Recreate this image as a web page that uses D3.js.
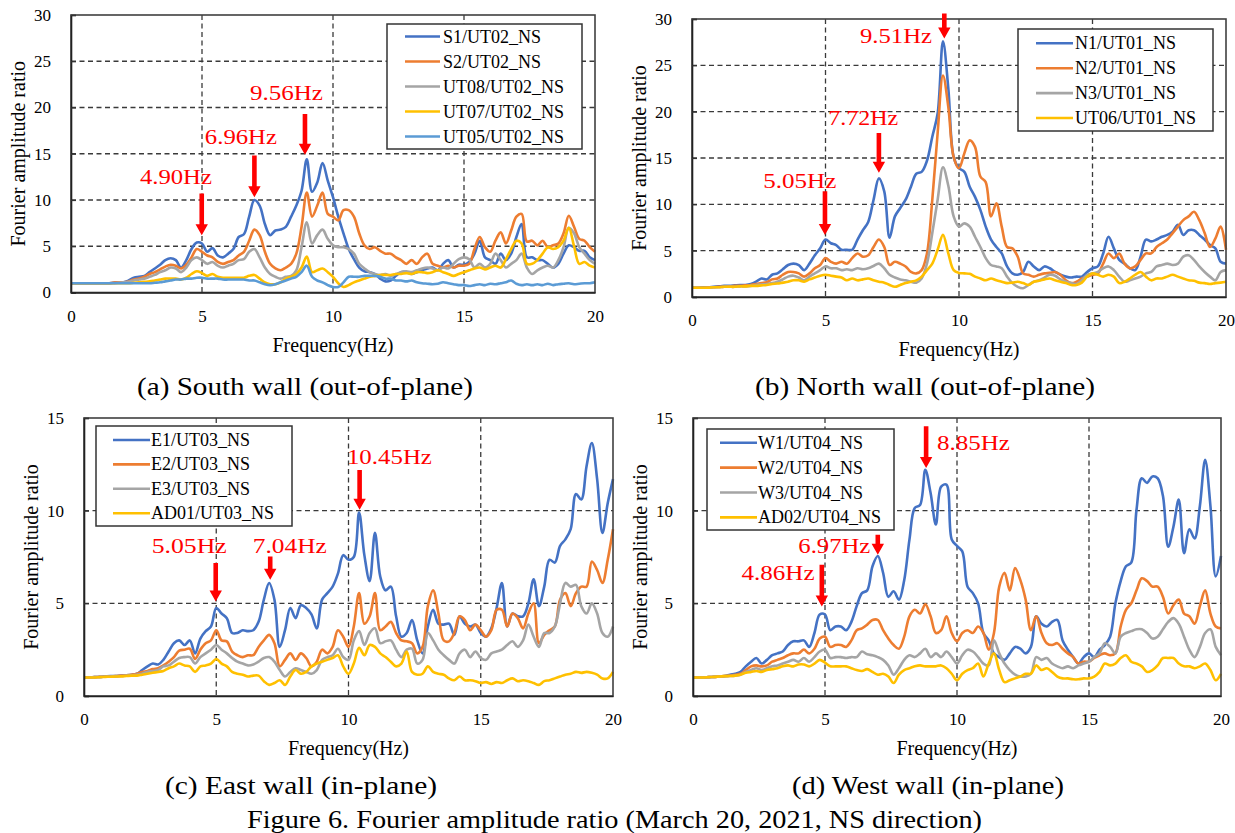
<!DOCTYPE html>
<html><head><meta charset="utf-8">
<script src="https://cdn.jsdelivr.net/npm/d3@7"></script>
<style>body{margin:0;background:#fff} svg{display:block} text{font-family:"Liberation Serif","Times New Roman",serif}</style>
</head><body><svg id="c" width="1235" height="833"></svg>
<script>
// ---------- DATA ----------
const FREQ = [0,0.2,0.4,0.6,0.8,1,1.2,1.4,1.6,1.8,
 2,2.2,2.4,2.6,2.8,3,3.2,3.4,3.6,3.8,
 4,4.2,4.4,4.6,4.8,5,5.2,5.4,5.6,5.8,
 6,6.2,6.4,6.6,6.8,7,7.2,7.4,7.6,7.8,
 8,8.2,8.4,8.6,8.8,9,9.2,9.4,9.6,9.8,
 10,10.2,10.4,10.6,10.8,11,11.2,11.4,11.6,11.8,
 12,12.2,12.4,12.6,12.8,13,13.2,13.4,13.6,13.8,
 14,14.2,14.4,14.6,14.8,15,15.2,15.4,15.6,15.8,
 16,16.2,16.4,16.6,16.8,17,17.2,17.4,17.6,17.8,
 18,18.2,18.4,18.6,18.8,19,19.2,19.4,19.6,19.8,
 20];
const X_TICKS = [0,5,10,15,20];
const Y_TICKS_30 = [0,5,10,15,20,25,30];
const Y_TICKS_15 = [0,5,10,15];

// (a) South wall
const A_S1 = [1.0,1.0,1.0,1.0,1.0,1.0,1.0,1.0,1.05,1.1,
 1.1,1.3,1.6,1.7,1.8,2.2,2.6,3.0,3.5,3.7,
 3.5,2.7,3.5,4.7,5.4,5.3,4.4,4.8,4.0,3.8,
 4.2,4.7,6.0,6.3,8.2,10.0,9.4,7.4,6.2,6.7,
 6.8,7.1,8.2,9.4,11.0,14.4,10.9,11.9,14.0,12.1,
 10.3,8.2,6.4,4.7,3.6,2.7,2.3,2.2,2.0,1.5,
 1.2,1.3,1.8,2.2,2.2,2.0,2.2,2.4,2.6,2.7,
 2.4,3.1,3.5,2.7,3.0,3.0,3.3,4.2,5.6,3.8,
 3.5,3.1,4.2,3.5,4.2,6.0,7.4,3.8,3.8,3.5,
 3.5,3.1,2.7,3.1,4.2,5.1,4.9,4.5,4.5,3.8,
 3.5];
const A_S2 = [1.0,1.0,1.0,1.0,1.0,1.0,1.0,1.0,1.05,1.1,
 1.1,1.2,1.4,1.5,1.7,2.0,2.2,2.5,2.8,3.0,
 2.9,2.6,3.0,3.8,4.7,4.4,4.0,3.8,3.3,3.1,
 3.3,3.5,4.0,4.4,5.6,6.8,6.2,4.4,3.1,2.6,
 2.4,2.7,3.1,4.2,7.1,10.8,8.2,9.4,10.8,8.5,
 8.2,7.8,8.9,8.9,8.2,6.4,5.1,4.7,4.9,4.5,
 4.2,4.2,3.8,3.5,3.1,3.5,3.1,3.8,4.2,3.1,
 2.9,2.7,2.9,2.7,2.9,2.9,3.1,4.7,6.0,4.9,
 4.4,5.6,6.5,5.3,6.7,8.2,8.5,5.5,5.6,5.1,
 5.6,4.9,5.1,5.3,6.4,8.3,7.1,5.8,5.6,4.9,
 4.4];
const A_UT08 = [1.0,1.0,1.0,1.0,1.0,1.0,1.0,1.0,1.0,1.05,
 1.1,1.15,1.3,1.4,1.5,1.7,1.9,2.2,2.4,2.7,
 2.6,2.2,2.7,3.5,3.8,3.5,3.1,3.3,2.9,2.7,
 2.9,3.1,3.5,3.6,4.4,4.7,3.8,2.7,2.0,1.7,
 1.5,1.7,1.8,2.4,4.9,7.6,5.3,6.2,6.8,5.8,
 5.1,4.9,4.9,4.7,4.2,3.1,2.6,2.2,2.0,1.9,
 2.0,1.8,2.0,2.2,2.3,2.2,2.4,2.6,2.7,2.6,
 2.4,2.7,2.6,3.1,3.6,3.8,3.6,2.7,3.1,2.7,
 3.1,4.2,3.5,2.7,3.1,3.5,4.2,2.7,2.0,2.4,
 2.7,2.9,2.7,3.5,4.9,7.0,6.4,4.9,4.2,3.5,
 3.1];
const A_UT07 = [1.0,1.0,1.0,1.0,1.0,1.0,1.0,1.0,1.0,1.0,
 1.0,1.0,1.05,1.1,1.15,1.2,1.3,1.4,1.5,1.5,
 1.5,1.4,1.6,2.0,2.3,2.1,1.8,2.0,1.7,1.6,
 1.6,1.6,1.6,1.6,1.8,1.9,1.5,1.1,0.9,0.9,
 1.1,1.5,1.7,2.0,2.7,3.9,2.2,2.4,2.6,2.2,
 1.7,1.0,0.6,0.8,1.1,1.3,1.5,1.7,1.8,1.9,
 1.9,1.9,2.0,2.0,2.1,2.0,2.2,2.2,2.1,2.2,
 2.4,2.2,2.0,1.8,2.0,2.2,2.4,2.6,2.7,2.5,
 2.7,2.9,2.7,3.6,4.7,5.6,5.3,3.1,3.1,3.5,
 4.2,4.9,4.7,4.9,5.6,7.0,5.0,3.1,3.3,2.9,
 2.7];
const A_UT05 = [1.0,1.0,1.0,1.0,1.0,1.0,1.0,1.0,1.0,1.0,
 1.0,1.0,1.0,1.0,1.0,1.0,1.05,1.1,1.2,1.3,
 1.4,1.4,1.5,1.5,1.6,1.6,1.5,1.5,1.5,1.4,
 1.4,1.4,1.4,1.4,1.3,1.3,1.1,0.9,0.8,0.9,
 1.1,1.3,1.5,1.7,2.2,2.9,1.7,1.3,1.1,0.8,
 0.6,0.6,1.1,1.7,1.7,1.7,1.8,1.8,1.8,1.7,
 1.5,1.5,1.3,1.3,1.2,1.3,1.1,1.0,0.95,0.9,
 0.95,1.1,1.0,0.9,0.8,0.8,0.7,0.8,0.9,0.8,
 0.95,0.9,1.0,1.1,1.3,0.95,0.8,0.9,0.8,0.9,
 0.8,0.95,0.8,0.9,0.95,1.0,0.9,0.95,1.0,1.0,
 1.1];

// (b) North wall
const B_N1 = [1.0,1.0,1.05,1.05,1.1,1.15,1.2,1.2,1.25,1.3,
 1.3,1.4,1.65,2.0,1.9,2.4,2.55,3.0,3.45,3.6,
 3.45,2.9,3.6,4.5,5.25,6.2,5.8,5.6,5.1,5.1,
 5.1,6.2,7.2,8.1,10.5,12.8,11.4,6.4,8.7,9.6,
 10.5,11.9,13.3,13.5,14.7,17.3,19.8,27.6,22.5,15.1,
 13.9,13.5,11.9,10.8,9.4,7.6,6.2,5.4,4.7,3.3,
 2.55,2.4,2.7,3.8,3.3,2.9,3.3,3.1,2.7,2.4,
 2.2,2.1,2.2,2.2,2.7,3.1,3.3,4.7,6.5,5.25,
 4.0,3.6,3.1,2.9,4.35,6.2,6.0,6.2,6.5,6.7,
 7.05,7.8,6.7,7.2,7.2,6.7,6.2,5.6,5.25,3.8,
 3.6];
const B_N2 = [1.0,1.0,1.0,1.05,1.05,1.1,1.1,1.15,1.2,1.2,
 1.25,1.3,1.4,1.5,1.6,1.9,2.0,2.4,2.7,2.7,
 2.55,2.2,2.55,3.1,3.45,4.2,3.8,3.6,3.8,3.6,
 4.2,4.7,4.35,4.5,5.4,6.2,5.4,3.45,3.8,3.6,
 3.3,2.7,2.55,2.9,4.7,10.5,17.7,23.9,20.5,15.1,
 13.9,15.5,16.9,16.2,13.0,12.4,8.7,10.1,7.6,5.4,
 5.25,4.35,2.55,2.4,2.2,2.4,2.55,2.6,2.7,2.4,
 1.8,1.5,1.65,2.0,2.2,2.4,2.55,3.6,4.7,4.2,
 4.7,3.6,3.1,3.3,4.0,4.7,4.7,5.4,5.8,6.2,
 6.9,7.6,8.3,8.7,9.2,8.3,6.9,5.4,6.3,7.6,
 5.1];
const B_N3 = [1.0,1.0,1.0,1.0,1.05,1.05,1.1,1.1,1.1,1.15,
 1.15,1.2,1.3,1.35,1.4,1.5,1.65,1.9,2.2,2.3,
 2.1,1.8,2.2,2.55,2.9,3.3,3.1,3.1,2.9,3.0,
 2.9,3.1,3.0,3.1,3.35,3.6,3.1,2.4,2.1,1.9,
 1.8,1.65,1.55,2.0,3.6,6.9,10.5,14.0,12.0,8.7,
 7.6,7.95,7.6,6.5,5.4,4.2,3.45,3.3,3.1,2.2,
 1.5,1.1,0.95,1.3,1.65,1.8,2.1,2.4,2.3,1.9,
 1.65,1.5,1.4,1.8,2.4,2.55,2.7,3.1,3.3,2.9,
 2.2,1.65,1.8,2.0,2.2,2.55,2.7,3.3,3.45,3.6,
 3.45,3.6,4.35,4.5,4.0,3.3,2.7,2.2,1.8,2.7,
 2.9];
const B_UT06 = [1.0,1.0,1.0,1.0,1.05,1.05,1.1,1.1,1.1,1.15,
 1.15,1.2,1.2,1.25,1.3,1.4,1.45,1.55,1.65,1.8,
 1.8,1.65,1.9,2.1,2.3,2.4,2.3,2.2,2.1,1.8,
 2.0,1.8,1.9,2.0,1.8,1.65,1.55,1.3,1.1,1.3,
 1.5,1.65,1.8,2.2,2.9,3.6,5.1,6.7,4.7,2.9,
 2.6,2.55,2.5,2.2,2.0,1.8,2.0,1.8,1.65,1.5,
 1.55,1.65,1.5,1.3,1.65,1.75,1.9,2.0,1.8,1.65,
 1.5,1.3,1.3,1.55,2.2,2.55,2.4,2.2,2.4,2.2,
 1.5,1.65,2.0,2.4,2.7,2.2,1.8,2.0,2.0,2.2,
 2.4,2.2,2.0,1.8,1.75,1.55,1.5,1.4,1.5,1.55,
 1.65];

// (c) East wall
const C_E1 = [1.0,1.0,1.02,1.03,1.05,1.07,1.08,1.1,1.12,1.15,
 1.2,1.4,1.6,1.75,1.7,1.95,2.4,2.85,3.0,2.75,
 3.0,2.3,3.1,3.5,3.75,4.75,4.45,4.2,3.4,3.4,
 3.55,3.5,3.55,4.0,5.2,6.1,5.2,2.65,3.55,4.75,
 4.2,4.9,4.75,4.4,3.65,5.2,5.55,5.9,6.6,7.6,
 7.35,7.5,9.9,7.6,6.2,8.8,6.45,5.7,5.9,4.3,
 3.2,3.4,4.1,3.0,2.3,3.75,4.65,3.9,3.85,3.9,
 3.3,4.3,3.9,3.75,3.85,3.4,3.2,3.65,4.75,6.1,
 3.75,4.45,4.3,4.3,5.0,6.3,4.85,5.9,7.35,7.2,
 8.1,8.45,9.0,10.9,10.6,12.4,13.65,11.7,8.8,10.4,
 11.7];
const C_E2 = [1.0,1.0,1.02,1.03,1.04,1.05,1.07,1.1,1.12,1.15,
 1.2,1.3,1.35,1.45,1.5,1.65,1.85,2.1,2.45,2.5,
 2.55,2.0,2.5,2.85,3.0,3.55,3.0,2.95,2.4,2.2,
 2.1,2.2,2.2,2.65,3.0,3.3,2.85,1.6,1.95,2.3,
 1.95,2.3,2.05,1.6,1.85,2.5,2.3,2.65,3.55,3.2,
 2.65,3.75,5.55,3.9,4.3,5.55,3.55,3.75,4.0,3.4,
 3.0,2.95,2.85,2.3,2.65,4.85,5.7,4.45,3.0,2.95,
 3.4,4.3,4.1,3.55,3.85,3.55,3.2,3.55,4.65,4.65,
 3.75,4.45,4.2,3.65,4.45,5.0,2.85,3.3,3.55,3.75,
 5.2,5.55,4.85,5.55,5.9,5.9,7.25,6.8,6.1,7.35,
 9.0];
const C_E3 = [1.0,1.0,1.02,1.03,1.04,1.05,1.07,1.08,1.1,1.12,
 1.15,1.2,1.3,1.35,1.4,1.6,1.65,1.85,2.05,2.1,
 2.1,1.75,2.1,2.3,2.5,2.75,2.5,2.3,2.05,1.85,
 1.75,1.65,1.7,1.85,2.05,2.1,1.85,1.4,1.05,1.3,
 1.5,1.4,1.3,1.2,1.4,1.95,2.1,2.2,2.55,2.1,
 1.95,3.0,3.5,2.75,3.4,3.65,2.85,2.95,3.0,2.5,
 2.1,2.5,2.55,1.75,1.95,3.4,3.0,2.5,2.2,1.95,
 1.75,2.3,2.5,2.1,2.4,2.05,1.95,2.3,2.4,2.5,
 2.75,2.95,2.65,3.0,3.85,3.2,2.65,3.4,3.4,3.75,
 5.0,6.1,5.9,6.0,4.85,4.45,5.0,4.45,3.4,3.2,
 3.75];
const C_AD01 = [1.0,1.0,1.0,1.02,1.03,1.04,1.05,1.06,1.08,1.1,
 1.1,1.15,1.2,1.25,1.3,1.35,1.5,1.6,1.75,1.65,
 1.6,1.3,1.6,1.65,1.75,2.0,1.75,1.6,1.3,1.2,
 1.15,1.05,1.1,1.1,0.8,0.6,0.7,0.85,0.6,1.05,
 1.4,1.2,1.3,1.6,1.75,1.85,1.95,2.05,2.2,1.6,
 1.2,1.75,2.6,2.2,2.75,2.65,2.3,2.1,1.85,1.6,
 1.75,2.4,1.3,1.15,1.2,1.6,1.3,1.2,1.15,0.95,
 0.85,1.05,0.85,0.85,0.8,0.7,0.75,0.65,0.75,0.7,
 0.85,0.95,0.8,0.85,0.8,0.7,0.6,0.8,0.85,0.95,
 1.05,1.15,1.2,1.3,1.25,1.3,1.25,1.15,0.95,0.95,
 1.3];

// (d) West wall
const D_W1 = [1.0,1.0,1.0,1.02,1.03,1.05,1.08,1.15,1.2,1.3,
 1.6,1.85,2.05,1.75,1.95,2.2,2.3,2.4,2.75,2.95,
 2.95,3.0,2.65,3.4,4.4,4.4,3.55,3.75,3.75,3.55,
 4.0,4.85,5.55,5.7,7.0,7.55,6.65,5.35,5.65,5.2,
 6.25,8.45,10.15,10.3,12.2,10.95,9.25,11.3,11.4,8.45,
 8.1,7.8,5.9,5.55,5.0,3.4,3.0,2.3,2.1,1.95,
 2.3,2.65,2.55,2.3,2.65,4.3,3.9,3.75,4.0,4.1,
 3.0,2.5,2.1,1.75,2.1,2.3,2.1,2.5,2.75,3.2,
 5.0,6.2,7.0,7.2,10.05,11.75,11.5,11.85,11.75,10.8,
 8.05,9.15,10.6,7.7,9.0,8.5,10.25,12.75,10.25,6.45,
 7.55];
const D_W2 = [1.0,1.0,1.0,1.02,1.03,1.05,1.07,1.1,1.15,1.2,
 1.4,1.6,1.65,1.6,1.65,1.85,1.95,2.05,2.2,2.3,
 2.3,2.5,2.3,2.55,3.1,3.2,2.65,2.75,2.75,2.65,
 3.0,3.55,3.65,3.85,4.1,4.1,3.55,3.1,2.75,2.55,
 3.2,4.3,4.65,4.45,4.95,4.3,3.4,3.55,4.3,3.4,
 2.95,3.4,3.55,3.4,3.75,3.4,2.5,3.4,5.9,6.65,
 5.7,6.9,6.25,5.2,3.55,4.3,3.4,2.85,2.75,2.85,
 2.55,2.3,2.1,1.75,1.85,1.85,2.05,2.2,2.3,2.2,
 2.3,3.75,4.65,5.0,5.7,6.35,6.2,5.9,5.9,5.35,
 4.45,4.9,5.2,4.45,4.3,3.9,4.85,5.7,4.45,3.75,
 3.65];
const D_W3 = [1.0,1.0,1.0,1.02,1.03,1.05,1.07,1.08,1.1,1.15,
 1.3,1.4,1.5,1.4,1.5,1.6,1.65,1.75,1.85,1.95,
 1.85,2.05,1.85,2.1,2.4,2.5,2.05,2.1,2.1,2.05,
 2.1,2.1,2.4,2.25,2.2,2.1,1.95,1.65,1.15,1.5,
 1.95,2.2,2.1,2.3,2.55,2.1,2.3,2.1,2.4,2.1,
 1.75,2.2,2.5,2.4,2.1,1.75,1.65,3.0,2.3,1.75,
 1.4,1.15,1.05,1.05,1.2,2.1,1.95,2.05,1.75,1.6,
 1.5,1.6,1.5,1.65,1.75,1.85,2.1,2.3,2.85,2.65,
 2.3,3.2,3.4,3.5,3.6,3.6,3.4,3.1,3.2,3.6,
 4.0,4.2,3.9,3.2,2.5,2.1,2.65,3.4,3.6,2.65,
 2.2];
const D_AD02 = [1.0,1.0,1.0,1.02,1.03,1.05,1.07,1.08,1.1,1.15,
 1.25,1.3,1.35,1.3,1.4,1.45,1.5,1.6,1.65,1.6,
 1.7,1.7,1.6,1.75,1.95,1.8,1.6,1.6,1.6,1.6,
 1.5,1.4,1.35,1.45,1.3,1.15,1.2,1.05,0.7,1.15,
 1.4,1.5,1.6,1.65,1.6,1.6,1.6,1.65,1.5,1.2,
 0.85,1.2,1.4,1.5,1.75,1.05,1.75,2.3,1.4,0.75,
 0.85,0.95,1.05,1.2,1.2,1.65,1.4,1.5,1.3,1.05,
 0.95,0.95,0.9,0.9,0.95,0.95,1.05,1.3,1.75,1.65,
 1.75,2.05,2.2,1.85,1.75,1.6,1.3,1.4,1.65,2.05,
 2.05,2.05,1.75,1.6,1.6,1.5,1.6,1.75,1.4,0.85,
 1.2];

// peak annotations: arrow frequency, arrow tip / tail amplitude, label anchor (Hz, amplitude)
const ANN_A = [
 {label:"4.90Hz", f:4.99, tip:6.2, tail:10.7, tx:2.63, ty:11.69, w:72},
 {label:"6.96Hz", f:7.0, tip:10.3, tail:14.8, tx:5.11, ty:16.09, w:72},
 {label:"9.56Hz", f:8.93, tip:14.9, tail:19.3, tx:6.83, ty:20.86, w:73}];
const ANN_B = [
 {label:"9.51Hz", f:9.45, tip:27.9, tail:30.6, tx:6.29, ty:27.4, w:72},
 {label:"7.72Hz", f:7.0, tip:13.4, tail:17.7, tx:5.10, ty:18.57, w:70},
 {label:"5.05Hz", f:4.98, tip:6.7, tail:11.4, tx:2.67, ty:11.8, w:73}];
const ANN_C = [
 {label:"5.05Hz", f:4.98, tip:5.1, tail:7.17, tx:2.56, ty:7.71, w:75},
 {label:"7.04Hz", f:7.04, tip:6.27, tail:7.53, tx:6.38, ty:7.71, w:74},
 {label:"10.45Hz", f:10.42, tip:10.05, tail:12.2, tx:9.94, ty:12.54, w:85}];
const ANN_D = [
 {label:"8.85Hz", f:8.83, tip:12.3, tail:14.56, tx:9.24, ty:13.26, w:73},
 {label:"6.97Hz", f:7.0, tip:7.62, tail:8.7, tx:3.99, ty:7.71, w:72},
 {label:"4.86Hz", f:4.88, tip:4.83, tail:7.08, tx:1.84, ty:6.27, w:73}];

const TITLE = "Figure 6. Fourier amplitude ratio (March 20, 2021, NS direction)";
const X_TITLE = "Frequency(Hz)";
const Y_TITLE = "Fourier amplitude ratio";

// ---------- STYLE / LAYOUT ----------
const C = {blue:"#4472C4", orange:"#ED7D31", gray:"#A5A5A5", yellow:"#FFC000", lblue:"#5B9BD5"};
const panels = [
 {box:{l:71,t:15,r:595,b:292.5}, ymax:30, yTicks:Y_TICKS_30,
  series:[["S1/UT02_NS",A_S1,C.blue],["S2/UT02_NS",A_S2,C.orange],["UT08/UT02_NS",A_UT08,C.gray],["UT07/UT02_NS",A_UT07,C.yellow],["UT05/UT02_NS",A_UT05,C.lblue]],
  legend:{x:387,y:24,w:195,h:125,row0:36.5,step:25,lx0:405,lx1:440,tx:443},
  ann:ANN_A, caption:{text:"(a) South wall (out-of-plane)", x:137, w:336, y:395}},
 {box:{l:692,t:19,r:1226,b:297}, ymax:30, yTicks:Y_TICKS_30,
  series:[["N1/UT01_NS",B_N1,C.blue],["N2/UT01_NS",B_N2,C.orange],["N3/UT01_NS",B_N3,C.gray],["UT06/UT01_NS",B_UT06,C.yellow]],
  legend:{x:1018,y:29,w:195,h:102,row0:43.3,step:24.9,lx0:1036,lx1:1073,tx:1075},
  ann:ANN_B, caption:{text:"(b) North wall (out-of-plane)", x:755, w:340, y:395}},
 {box:{l:84,t:418,r:613,b:696}, ymax:15, yTicks:Y_TICKS_15,
  series:[["E1/UT03_NS",C_E1,C.blue],["E2/UT03_NS",C_E2,C.orange],["E3/UT03_NS",C_E3,C.gray],["AD01/UT03_NS",C_AD01,C.yellow]],
  legend:{x:96,y:426,w:196,h:100,row0:440,step:24.4,lx0:113,lx1:150,tx:151},
  ann:ANN_C, caption:{text:"(c) East wall (in-plane)", x:165, w:272, y:794}},
 {box:{l:693,t:418,r:1221,b:696}, ymax:15, yTicks:Y_TICKS_15,
  series:[["W1/UT04_NS",D_W1,C.blue],["W2/UT04_NS",D_W2,C.orange],["W3/UT04_NS",D_W3,C.gray],["AD02/UT04_NS",D_AD02,C.yellow]],
  legend:{x:707,y:429,w:187,h:101,row0:442.7,step:24.9,lx0:720,lx1:757,tx:758},
  ann:ANN_D, caption:{text:"(d) West wall (in-plane)", x:792, w:272, y:794}}
];

const svg = d3.select("#c");
svg.append("rect").attr("width",1235).attr("height",833).attr("fill","#fff");

function txt(g, s, x, y, size, opts={}) {
  const t = g.append("text").attr("x",x).attr("y",y).attr("font-size",size).text(s)
    .attr("fill", opts.fill || "#000");
  if (opts.anchor) t.attr("text-anchor", opts.anchor);
  if (opts.w) t.attr("textLength", opts.w).attr("lengthAdjust","spacingAndGlyphs");
  if (opts.transform) t.attr("transform", opts.transform);
  return t;
}

panels.forEach(p => {
  const b = p.box;
  const x = d3.scaleLinear().domain([0,20]).range([b.l,b.r]);
  const y = d3.scaleLinear().domain([0,p.ymax]).range([b.b,b.t]);
  const g = svg.append("g");

  // gridlines
  g.selectAll(".hg").data(p.yTicks.filter(v => v>0 && v<p.ymax)).enter().append("line")
    .attr("x1",b.l).attr("x2",b.r).attr("y1",d=>y(d)).attr("y2",d=>y(d))
    .attr("stroke","#3a3a3a").attr("stroke-width",1.3).attr("stroke-dasharray","5,3.5");
  g.selectAll(".vg").data(X_TICKS.filter(v => v>0 && v<20)).enter().append("line")
    .attr("y1",b.t).attr("y2",b.b).attr("x1",d=>x(d)).attr("x2",d=>x(d))
    .attr("stroke","#3a3a3a").attr("stroke-width",1.3).attr("stroke-dasharray","5,3.5");

  // series
  const line = d3.line().x((d,i)=>x(FREQ[i])).y(d=>y(d)).curve(d3.curveCatmullRom.alpha(0.5));
  p.series.forEach(s => {
    g.append("path").datum(s[1]).attr("d",line).attr("fill","none")
      .attr("stroke",s[2]).attr("stroke-width",2.6).attr("stroke-linejoin","round");
  });

  // frame
  g.append("rect").attr("x",b.l).attr("y",b.t).attr("width",b.r-b.l).attr("height",b.b-b.t)
    .attr("fill","none").attr("stroke","#404040").attr("stroke-width",1.6);

  // axes
  const ya = g.append("g").attr("transform",`translate(${b.l},0)`)
    .call(d3.axisLeft(y).tickValues(p.yTicks).tickSize(-5).tickPadding(20).tickFormat(d3.format("d")));
  ya.select(".domain").attr("stroke","#222").attr("stroke-width",1.6);
  ya.selectAll(".tick line").attr("stroke","#333").attr("stroke-width",1.2);
  ya.selectAll("text").attr("font-size",17).attr("font-family","Liberation Serif, Times New Roman, serif").attr("fill","#000");
  const xa = g.append("g").attr("transform",`translate(0,${b.b})`)
    .call(d3.axisBottom(x).tickValues(X_TICKS).tickSize(0).tickPadding(17).tickFormat(d3.format("d")));
  xa.select(".domain").attr("stroke","#222").attr("stroke-width",1.6);
  xa.selectAll("text").attr("font-size",17).attr("font-family","Liberation Serif, Times New Roman, serif").attr("fill","#000");

  // axis titles
  txt(g, X_TITLE, (b.l+b.r)/2, b.b+59, 20, {anchor:"middle"});
  const cy = (b.t+b.b)/2, cx = b.l-46;
  txt(g, Y_TITLE, cx, cy, 20, {anchor:"middle", transform:`rotate(-90,${cx},${cy})`});

  // legend
  const L = p.legend;
  g.append("rect").attr("x",L.x).attr("y",L.y).attr("width",L.w).attr("height",L.h)
    .attr("fill","#fff").attr("stroke","#333").attr("stroke-width",1.5);
  p.series.forEach((s,i) => {
    const ry = L.row0 + i*L.step;
    g.append("line").attr("x1",L.lx0).attr("x2",L.lx1).attr("y1",ry).attr("y2",ry)
      .attr("stroke",s[2]).attr("stroke-width",2.6);
    txt(g, s[0], L.tx, ry+6, 18);
  });

  // annotations
  p.ann.forEach(a => {
    const ax = x(a.f), y1 = y(a.tail), y2 = y(a.tip), hl = 11, hw = 6.2, sw = 2.3;
    g.append("path").attr("fill","#ff0000")
      .attr("d",`M${ax-sw},${y1}L${ax+sw},${y1}L${ax+sw},${y2-hl}L${ax+hw},${y2-hl}L${ax},${y2}L${ax-hw},${y2-hl}L${ax-sw},${y2-hl}Z`);
    txt(g, a.label, x(a.tx), y(a.ty), 20, {fill:"#ff0000", w:a.w});
  });

  // caption
  txt(svg, p.caption.text, p.caption.x, p.caption.y, 26, {w:p.caption.w});
});

txt(svg, TITLE, 247, 828, 26, {w:735});
</script></body></html>
